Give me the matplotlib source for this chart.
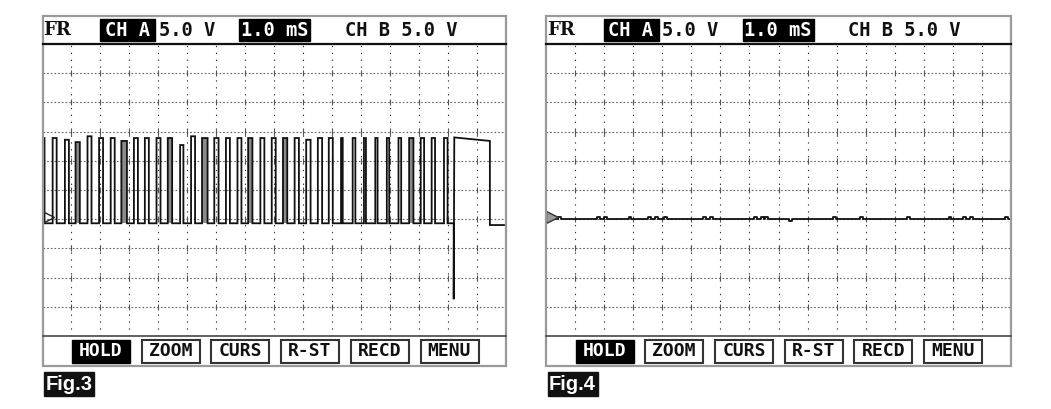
import matplotlib
matplotlib.use("Agg")
import matplotlib.pyplot as plt
from matplotlib.patches import Rectangle

W, H, DPI = 1051, 409, 100

# ---------------- data (time in ms, level in volts) ----------------
# Fig.3 : pulse train
pulse_rise = [0.00, 0.351, 0.774, 1.142, 1.555, 1.955, 2.357, 2.725, 3.159, 3.537,
              3.940, 4.329, 4.756, 5.134, 5.513, 5.936, 6.339, 6.738, 7.106, 7.529,
              7.922, 8.310, 8.713, 9.112, 9.515, 9.893, 10.317, 10.719, 11.108, 11.500,
              11.899, 12.302, 12.670, 13.070, 13.448, 13.874]
pulse_fall = [0.07, 0.489, 0.912, 1.290, 1.693, 2.092, 2.495, 2.918, 3.297, 3.675,
              4.078, 4.480, 4.869, 5.272, 5.705, 6.084, 6.476, 6.875, 7.254, 7.667,
              8.059, 8.458, 8.861, 9.264, 9.663, 10.031, 10.375, 10.812, 11.177, 11.579,
              11.982, 12.395, 12.818, 13.187, 13.565, 13.998]
pulse_top = [13.9, 13.9, 13.6, 13.2, 14.2, 13.9, 13.9, 13.4, 13.9, 13.9,
             13.9, 13.9, 12.7, 14.2, 13.9, 13.9, 13.9, 13.9, 13.9, 13.9,
             13.9, 13.9, 13.9, 13.6, 13.9, 13.9, 13.9, 13.9, 13.9, 13.9,
             13.9, 13.9, 13.9, 13.9, 13.9, 13.9]
pulse_gray = [False, False, False, True, False, False, False, True, False, False,
              False, True, False, False, True, False, False, False, True, False,
              False, True, False, False, False, False, False, False, False, False,
              False, False, True, False, False, False]
low_level = -0.7
spike_time = 14.21
spike_min = -13.7
plateau_start_v = 14.0
plateau_end_time = 15.46
plateau_end_v = 13.4
tail_v = -1.0
end_time = 15.95

# Fig.4 : flat line with small blips
flat_level = 0.1
blip_t = [0.48, 1.80, 2.05, 2.89, 3.55, 3.80, 4.10, 5.45, 5.70, 7.20, 7.45, 7.60,
          8.40, 9.94, 10.87, 12.46, 13.90, 14.40, 14.65, 15.86]
blip_v = [0.35, 0.35, 0.35, 0.35, 0.35, 0.35, 0.35, 0.35, 0.35, 0.35, 0.35, 0.35,
          -0.35, 0.35, 0.45, 0.35, 0.35, 0.35, 0.35, 0.35]

header_a = "CH A"
header_a_scale = "5.0 V"
header_time = "1.0 mS"
header_b = "CH B 5.0 V"
buttons = ["HOLD", "ZOOM", "CURS", "R-ST", "RECD", "MENU"]
fig_labels = ["Fig.3", "Fig.4"]

# ---------------- figure ----------------
fig = plt.figure(figsize=(W / DPI, H / DPI), dpi=DPI)
fig.patch.set_facecolor("white")

panel_left = [42.5, 546.0]
panel_right = [505.5, 1011.0]
y_top, y_head, y_plot_bot, y_bot = 15.5, 44.0, 336.0, 366.0


def px_axes(x0, x1, y0, y1):
    return fig.add_axes([x0 / W, (H - y1) / H, (x1 - x0) / W, (y1 - y0) / H])


def style_scope(ax):
    ax.set_xlim(0, 16)
    ax.set_ylim(-20, 30)
    ax.axis("off")
    for k in range(1, 16):
        ax.axvline(k, color="#333333", lw=0.8, ls=(0, (1.2, 5.0)), zorder=1)
    for v in range(-15, 30, 5):
        ax.axhline(v, color="#666666", lw=0.8, ls=(0, (1.5, 1.8)), zorder=1)
    xs = [k for k in range(1, 16) for v in range(-15, 30, 5)]
    ys = [v for k in range(1, 16) for v in range(-15, 30, 5)]
    ax.plot(xs, ys, ls="none", marker="|", ms=5, mew=0.8, color="#555555", zorder=1)


# --- Fig.3 trace
ax1 = px_axes(panel_left[0], panel_right[0], y_head, y_plot_bot)
style_scope(ax1)
tt, vv = [], []
for r, f, top in zip(pulse_rise, pulse_fall, pulse_top):
    tt += [r, r, f, f]
    vv += [low_level, top, top, low_level]
tt += [spike_time, spike_time, spike_time + 0.02, plateau_end_time, plateau_end_time, end_time]
vv += [low_level, spike_min, plateau_start_v, plateau_end_v, tail_v, tail_v]
vv[0] = pulse_top[0]
for r, f, top, g in zip(pulse_rise, pulse_fall, pulse_top, pulse_gray):
    if g:
        ax1.fill_between([r, f], low_level, top, color="#8a8a8a", lw=0, zorder=2)
ax1.plot(tt, vv, color="#111111", lw=1.3, zorder=3, solid_joinstyle="miter")
ax1.plot([0.2], [0.4], marker=">", ms=8, mfc="none", mec="#222222", mew=1.0, zorder=4)

# --- Fig.4 trace
ax2 = px_axes(panel_left[1], panel_right[1], y_head, y_plot_bot)
style_scope(ax2)
t2, v2 = [0.0], [flat_level]
for bt, bv in zip(blip_t, blip_v):
    t2 += [bt - 0.05, bt - 0.05, bt + 0.05, bt + 0.05]
    v2 += [flat_level, bv, bv, flat_level]
t2.append(end_time + 0.05)
v2.append(flat_level)
ax2.plot(t2, v2, color="#111111", lw=1.3, zorder=3)
ax2.plot([0.2], [0.4], marker=">", ms=8, mfc="#999999", mec="#333333", mew=1.0, zorder=4)

# --- overlay for frames, header, buttons
ov = fig.add_axes([0, 0, 1, 1], facecolor="none")
ov.set_xlim(0, W)
ov.set_ylim(H, 0)
ov.axis("off")

mono = "DejaVu Sans Mono"
hfs = 13.5
for i in range(2):
    L, R = panel_left[i], panel_right[i]
    ov.add_patch(Rectangle((L, y_top), R - L, y_bot - y_top, fill=False,
                           ec="#9a9a9a", lw=1.6, zorder=5))
    ov.plot([L, R], [y_head, y_head], color="#111111", lw=1.6, zorder=6)
    ov.plot([L, R], [y_plot_bot, y_plot_bot], color="#555555", lw=1.3, zorder=6)

    ty = 30.0
    ov.text(L + 0.8, ty, "FR", family="DejaVu Serif", weight="bold", fontsize=13,
            va="center", ha="left", color="#111111", zorder=7)
    ov.add_patch(Rectangle((L + 57.5, 18.5), 55, 22, color="black", zorder=6))
    ov.text(L + 85, ty, header_a, family=mono, weight="bold", fontsize=hfs,
            va="center", ha="center", color="white", zorder=7)
    ov.text(L + 116.5, ty, header_a_scale, family=mono, weight="bold", fontsize=hfs,
            va="center", ha="left", color="#111111", zorder=7)
    ov.add_patch(Rectangle((L + 196.5, 18.5), 71, 22, color="black", zorder=6))
    ov.text(L + 232, ty, header_time, family=mono, weight="bold", fontsize=hfs,
            va="center", ha="center", color="white", zorder=7)
    ov.text(L + 302.5, ty, header_b, family=mono, weight="bold", fontsize=hfs,
            va="center", ha="left", color="#111111", zorder=7)

    bw, step, b0 = 58.0, 69.7, L + 29.5
    for j, name in enumerate(buttons):
        bx = b0 + j * step
        if j == 0:
            ov.add_patch(Rectangle((bx, 339.5), bw, 23.5, color="black", zorder=6))
            col = "white"
        else:
            ov.add_patch(Rectangle((bx, 339.5), bw, 23.5, fc="white", ec="#333333",
                                   lw=1.5, zorder=6))
            col = "#111111"
        ov.text(bx + bw / 2, 351.5, name, family=mono, weight="bold", fontsize=13,
                va="center", ha="center", color=col, zorder=7)

    ov.add_patch(Rectangle((L + 1.5, 372), 50, 23.5, color="#111111", zorder=6))
    ov.text(L + 26.5, 384, fig_labels[i], family="Liberation Sans", weight="bold",
            fontsize=14.5, va="center", ha="center", color="white", zorder=7)

fig.savefig("out.png", dpi=DPI, facecolor="white")
